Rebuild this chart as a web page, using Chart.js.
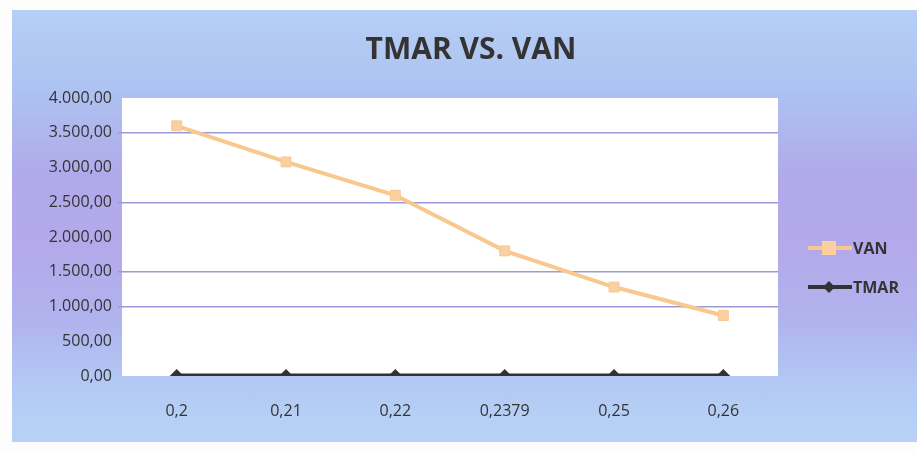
<!DOCTYPE html>
<html><head><meta charset="utf-8">
<script src="https://cdn.jsdelivr.net/npm/chart.js@4/dist/chart.umd.min.js"></script>
<style>
html,body{margin:0;padding:0;background:#fdfdfd;width:917px;height:453px;overflow:hidden}
#wrap{position:absolute;left:12px;top:10px;width:905px;height:432px;
background:linear-gradient(to bottom,#b6cff5 0%,#adc3f1 18%,#b0aaea 38%,#b4a9ea 55%,#b0b3ee 72%,#b3cbf4 88%,#b8d2f6 100%);}
canvas{display:block}
</style></head><body>
<div id="wrap"><canvas id="c" width="905" height="432"></canvas></div>
<script>
const categories = ["0,2","0,21","0,22","0,2379","0,25","0,26"];
const vanValues = [3600, 3080, 2600, 1800, 1280, 870];
const tmarValues = [0.2, 0.21, 0.22, 0.2379, 0.25, 0.26];
const yTicks = [0,500,1000,1500,2000,2500,3000,3500,4000];
const visibleGrid = [1000,1500,2500,3500];
const titleText = "TMAR VS. VAN";

function fmt(v){
  const s = Math.round(v).toString().replace(/\B(?=(\d{3})+(?!\d))/g,".");
  return s + ",00";
}

const bgPlugin = {
  id:'bg',
  beforeDraw(chart){
    const {ctx, chartArea:a} = chart;
    ctx.save();
    ctx.fillStyle = '#ffffff';
    ctx.fillRect(a.left, a.top, a.right-a.left, a.bottom-a.top);
    ctx.restore();
  },
  afterDraw(chart){
    const ctx = chart.ctx;
    ctx.save();
    ctx.fillStyle = '#333333';
    ctx.font = 'bold 30px "Open Sans"';
    ctx.textAlign = 'center';
    ctx.textBaseline = 'middle';
    ctx.fillText(titleText, 459, 40);
    // legend
    const items = [
      {label:'VAN', y:238, color:'#f8c88e', lw:4, marker:'sq', fill:'#fbd0a0'},
      {label:'TMAR', y:277, color:'#333333', lw:4, marker:'dia', fill:'#333333'}
    ];
    items.forEach(it=>{
      ctx.strokeStyle = it.color; ctx.lineWidth = it.lw;
      ctx.beginPath(); ctx.moveTo(796, it.y); ctx.lineTo(840, it.y); ctx.stroke();
      ctx.fillStyle = it.fill;
      if(it.marker==='sq'){ ctx.fillRect(810, it.y-7, 14, 14); }
      else { ctx.beginPath(); ctx.moveTo(817,it.y-6); ctx.lineTo(823,it.y); ctx.lineTo(817,it.y+6); ctx.lineTo(811,it.y); ctx.closePath(); ctx.fill(); }
      ctx.fillStyle = '#333333';
      ctx.font = 'bold 16px "Open Sans"';
      ctx.textAlign = 'left';
      ctx.fillText(it.label, 841, it.y+1);
    });
    ctx.restore();
  }
};

new Chart(document.getElementById('c'), {
  type:'line',
  data:{
    labels:categories,
    datasets:[
      {label:'VAN', data:vanValues, borderColor:'#f8c88e', backgroundColor:'#fbd0a0',
       borderWidth:4, pointStyle:'rect', pointRadius:7, pointBorderWidth:1, pointBorderColor:'#f9c793', tension:0},
      {label:'TMAR', data:tmarValues, borderColor:'#333333', backgroundColor:'#333333',
       borderWidth:5, pointStyle:'rectRot', pointRadius:7, pointBorderWidth:0, tension:0}
    ]
  },
  options:{
    responsive:false, animation:false, devicePixelRatio:1,
    layout:{padding:{left:0, top:88, right:139, bottom:0}},
    plugins:{legend:{display:false}, title:{display:false}, tooltip:{enabled:false}},
    scales:{
      x:{
        offset:true,
        grid:{display:false, drawTicks:false},
        border:{display:false},
        ticks:{color:'#333333', font:{family:'Open Sans', size:16}, padding:26, maxRotation:0},
        afterFit(s){ s.height = 66; }
      },
      y:{
        min:0, max:4000,
        afterBuildTicks(s){ s.ticks = yTicks.map(v=>({value:v})); },
        grid:{
          color:(c)=> visibleGrid.includes(c.tick && c.tick.value) ? '#9c9ad6' : 'rgba(0,0,0,0)',
          lineWidth:1.5, tickLength:4
        },
        border:{display:false},
        ticks:{color:'#333333', font:{family:'Open Sans', size:16}, padding:6, callback:(v)=>fmt(v)},
        afterFit(s){ s.width = 110; }
      }
    }
  },
  plugins:[bgPlugin]
});
</script>
</body></html>
